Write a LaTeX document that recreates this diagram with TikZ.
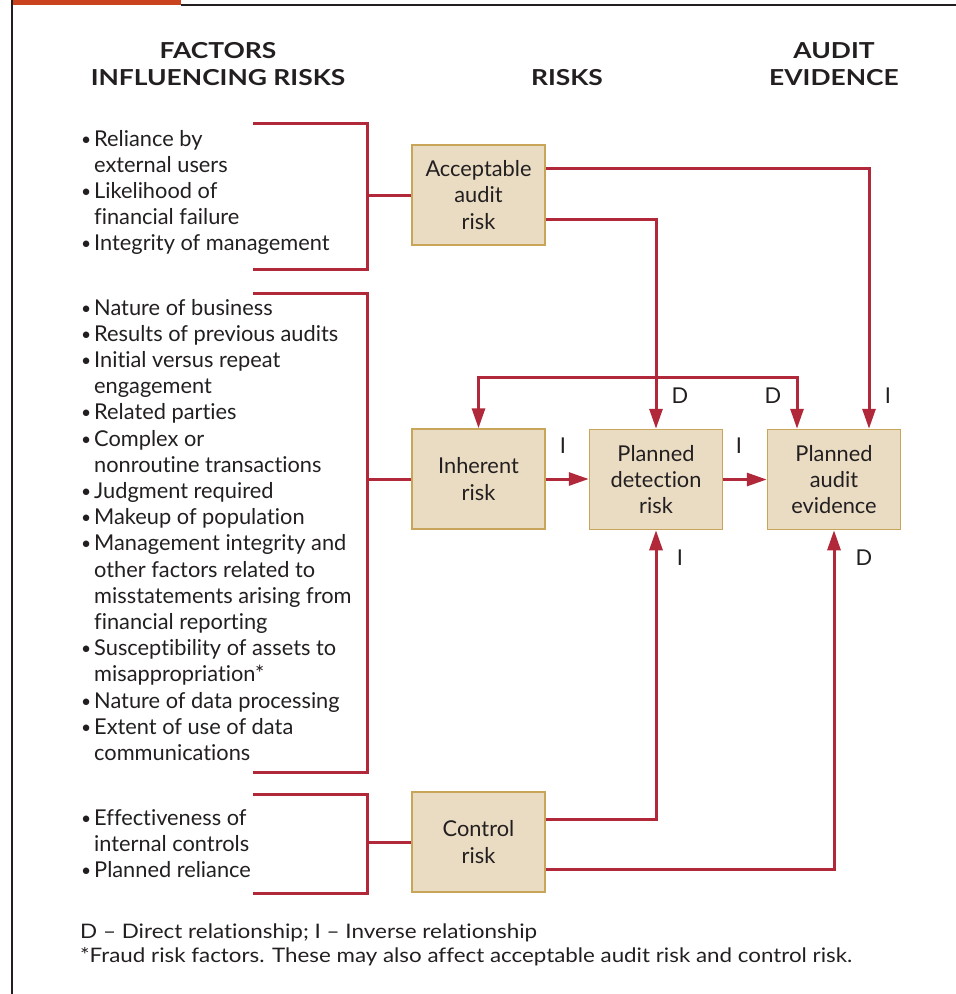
\documentclass[tikz,border=0pt]{standalone}
\usepackage{fontspec}
\setmainfont{Lato}[Ligatures=NoCommon]
\usetikzlibrary{arrows.meta}
\definecolor{boxfill}{HTML}{EADCC2}
\definecolor{boxline}{HTML}{C9A55A}
\definecolor{rl}{HTML}{B0283A}
\definecolor{orng}{HTML}{C9431E}
\definecolor{ink}{HTML}{231F20}
\newcommand{\bodyfont}{\fontsize{21.8}{26.2}\selectfont}
\newcommand{\footfont}{\fontsize{20}{26.2}\selectfont}
\newcommand{\bi}[1]{\makebox[13pt][l]{\raisebox{1pt}{\scalebox{0.8}{\textbullet}}}#1}
\newcommand{\ci}[1]{\hspace*{13pt}#1}
\newcommand{\hd}[1]{\scalebox{1.2}[1]{#1}}
\tikzset{
  riskbox/.style={draw=boxline, line width=1.5pt, fill=boxfill, minimum width=133pt,
    minimum height=100pt, align=center, font=\bodyfont, text=ink, inner sep=0pt},
  link/.style={draw=rl, line width=3pt},
  arr/.style={link, -{Triangle[length=20pt,width=13pt]}},
  rel/.style={font=\bodyfont, text=ink, inner sep=0pt},
  factors/.style={font=\bodyfont, text=ink, inner sep=0pt, anchor=base west},
  head/.style={font=\fontsize{22}{26}\selectfont\bfseries, text=ink, inner sep=0pt, anchor=base},
  foot/.style={font=\footfont, text=ink, inner sep=0pt, anchor=base west},
}
\begin{document}
\begin{tikzpicture}[x=1pt, y=-1pt]
\useasboundingbox (0,0) rectangle (956,994);
% frame
\fill[orng] (12,0) rectangle (181,4.5);
\draw[ink, line width=2.2pt] (181,5) -- (956,5);
\draw[ink, line width=2.5pt] (12,0) -- (12,994);
% headers
\node[head] (h1a) at (218,58) {\hd{FACTORS}};
\node[head] (h1b) at (218,85) {\hd{INFLUENCING RISKS}};
\node[head] (h2) at (567,85) {\hd{RISKS}};
\node[head] (h3a) at (834,58) {\hd{AUDIT}};
\node[head] (h3b) at (834,85) {\hd{EVIDENCE}};
% factor lists
\node[factors] (fa) at (81,146) {\begin{tabular}[t]{@{}l@{}}
\bi{Reliance by}\\ \ci{external users}\\ \bi{Likelihood of}\\ \ci{financial failure}\\
\bi{Integrity of management}\end{tabular}};
\node[factors] (fb) at (81,315) {\begin{tabular}[t]{@{}l@{}}
\bi{Nature of business}\\ \bi{Results of previous audits}\\ \bi{Initial versus repeat}\\
\ci{engagement}\\ \bi{Related parties}\\ \bi{Complex or}\\ \ci{nonroutine transactions}\\
\bi{Judgment required}\\ \bi{Makeup of population}\\ \bi{Management integrity and}\\
\ci{other factors related to}\\ \ci{misstatements arising from}\\ \ci{financial reporting}\\
\bi{Susceptibility of assets to}\\ \ci{misappropriation*}\\ \bi{Nature of data processing}\\
\bi{Extent of use of data}\\ \ci{communications}\end{tabular}};
\node[factors] (fc) at (81,825) {\begin{tabular}[t]{@{}l@{}}
\bi{Effectiveness of}\\ \ci{internal controls}\\ \bi{Planned reliance}\end{tabular}};
% risk boxes
\node[riskbox] (acc) at (478.5,195) {Acceptable\\audit\\risk};
\node[riskbox] (inh) at (478.5,479) {Inherent\\risk};
\node[riskbox] (det) at (656,479.5) {Planned\\detection\\risk};
\node[riskbox] (ev) at (834,479.5) {Planned\\audit\\evidence};
\node[riskbox] (ctl) at (478.5,842) {Control\\risk};
% brackets
\coordinate (b1a) at (253,123); \coordinate (b1b) at (367,269); \coordinate (b1c) at (253,269);
\draw[link] (b1a) -| (b1b) -- (b1c);
\draw[link] (acc.west -| b1b) -- (acc.west);
\coordinate (b2a) at (253,293); \coordinate (b2b) at (367,772); \coordinate (b2c) at (253,772);
\draw[link] (b2a) -| (b2b) -- (b2c);
\draw[link] (inh.west -| b2b) -- (inh.west);
\coordinate (b3a) at (253,794); \coordinate (b3b) at (367,893); \coordinate (b3c) at (253,893);
\draw[link] (b3a) -| (b3b) -- (b3c);
\draw[link] (ctl.west -| b3b) -- (ctl.west);
% connectors
\draw[arr] (acc.east |- 0,168) -| (ev.north -| 869,0);
\draw[arr] (acc.east |- 0,219) -| (det.north);
\coordinate (j) at (656,377);
\draw[arr] (j) -| (inh.north);
\draw[arr] (j) -| (ev.north -| 797,0);
\draw[arr] (inh.east) -- (det.west |- inh.east);
\draw[arr] (det.east) -- (ev.west);
\draw[arr] (ctl.east |- 0,819) -| (det.south);
\draw[arr] (ctl.east |- 0,869) -| (ev.south);
% relation labels
\node[rel] (l1) at (563,446) {I};
\node[rel] (l2) at (739,446) {I};
\node[rel] (l3) at (680,396) {D};
\node[rel] (l4) at (773,396) {D};
\node[rel] (l5) at (888,396) {I};
\node[rel] (l6) at (680,558) {I};
\node[rel] (l7) at (864,558) {D};
% footer
\node[foot] (n1) at (80,938) {\resizebox{457pt}{\height}{D -- Direct relationship; I -- Inverse relationship}};
\node[foot] (n2) at (80,962) {\resizebox{772pt}{\height}{*Fraud risk factors. These may also affect acceptable audit risk and control risk.}};
\end{tikzpicture}
\end{document}
